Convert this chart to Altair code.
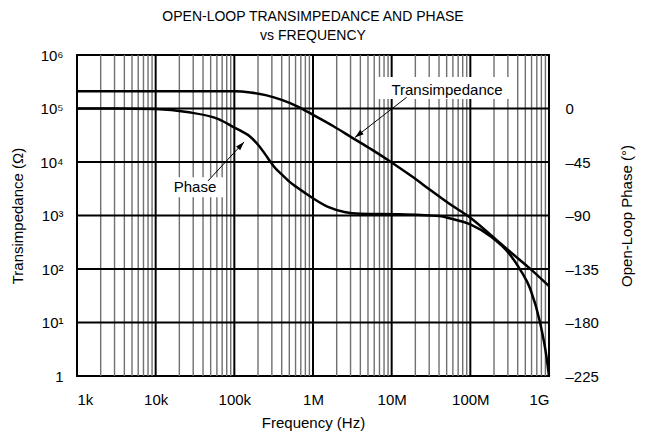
import json
import altair as alt
import pandas as pd

FONT = "Liberation Sans"

# ---- text ----
title_lines = ["OPEN-LOOP TRANSIMPEDANCE AND PHASE", "vs FREQUENCY"]
x_title = "Frequency (Hz)"
y_title = "Transimpedance (Ω)"
p_title = "Open-Loop Phase (°)"

freq_ticks = [1e3, 1e4, 1e5, 1e6, 1e7, 1e8, 1e9]
freq_labels = ["1k", "10k", "100k", "1M", "10M", "100M", "1G"]
z_ticks = [1, 10, 100, 1e3, 1e4, 1e5, 1e6]
z_labels = ["1", "10¹", "10²", "10³", "10⁴", "10⁵", "10⁶"]
phase_ticks = [-225, -180, -135, -90, -45, 0]
phase_labels = ["–225", "–180", "–135", "–90", "–45", "0"]

# ---- series ----
trans_freq = [1e3, 1e4, 1e5, 1.6e5, 2.5e5, 4e5, 6.3e5, 1e6, 1.8e6, 3.2e6, 5.6e6,
              1e7, 1.8e7, 3.2e7, 5.6e7, 1e8, 1.8e8, 3.2e8, 5.6e8, 1e9]
trans_z = [2.1e5, 2.1e5, 2.1e5, 2.0e5, 1.78e5, 1.45e5, 1.1e5, 7.6e4, 4.7e4, 2.8e4, 1.7e4,
           9.8e3, 5.4e3, 2.9e3, 1.6e3, 9.1e2, 4.4e2, 2.1e2, 1.05e2, 48]

phase_freq = [1e3, 3e3, 1e4, 2.5e4, 6.3e4, 1e5, 1.26e5, 1.58e5, 2e5, 2.5e5, 2.82e5,
              3.16e5, 4e5, 5e5, 6.3e5, 7.9e5, 1e6, 1.58e6, 2.5e6, 4e6, 1.25e7, 4e7,
              5.6e7, 1e8, 1.8e8, 3.2e8, 4.3e8, 5.8e8, 7.7e8, 9.3e8, 1e9]
phase_deg = [0, 0, -0.5, -3, -9, -16, -19.5, -23.5, -30.5, -39, -44,
             -48.5, -55.5, -61.5, -66.5, -71, -75.5, -83, -87, -88.5, -89, -90.5,
             -92.5, -97.5, -107.5, -123, -135.5, -152, -180, -209, -225]

# ---- grid ----
decades = [1e3, 1e4, 1e5, 1e6, 1e7, 1e8]
minor_mult = [2, 3, 4, 5, 6, 7, 8, 9]
minor_freq = [m * d for d in decades for m in minor_mult]
major_freq = [1e4, 1e5, 1e6, 1e7, 1e8]
major_z = [10, 100, 1e3, 1e4, 1e5]

# ---- annotations ----
ann_label = ["Transimpedance", "Phase"]
ann_f = [5.05e7, 3.16e4]
ann_z = [2.25e5, 3.44e3]
box_f1 = [6.7e6, 1.32e4]
box_f2 = [3.5e8, 7.6e4]
box_z1 = [3.9e5, 5.2e3]
box_z2 = [1.5e5, 2.2e3]
arrow_id = ["t", "t", "p", "p"]
arrow_f = [1.55e7, 3.42e6, 4.62e4, 1.33e5]
arrow_z = [1.62e5, 2.88e4, 4.42e3, 2.37e4]
head_f = [3.42e6, 1.33e5]
head_z = [2.88e4, 2.37e4]
head_angle = [232, 43]

trans_df = pd.DataFrame({"f": trans_freq, "z": trans_z})
phase_df = pd.DataFrame({"f": phase_freq, "deg": phase_deg})
minor_df = pd.DataFrame({"f": minor_freq})
major_df = pd.DataFrame({"f": major_freq})
hz_df = pd.DataFrame({"z": major_z})
ann_df = pd.DataFrame({"f": ann_f, "z": ann_z, "label": ann_label})
box_df = pd.DataFrame({"f1": box_f1, "f2": box_f2, "z1": box_z1, "z2": box_z2})
arrow_df = pd.DataFrame({"f": arrow_f, "z": arrow_z, "id": arrow_id})
head_df = pd.DataFrame({"f": head_f, "z": head_z, "a": head_angle})

x_scale = alt.Scale(type="log", domain=[1e3, 1e9], nice=False)
y_scale = alt.Scale(type="log", domain=[1, 1e6], nice=False)
p_scale = alt.Scale(domain=[-225, 45], nice=False, zero=False)

x_axis = alt.Axis(
    values=freq_ticks,
    labelExpr=json.dumps(freq_labels, ensure_ascii=False) + "[round(log(datum.value)/LN10)-3]",
    title=x_title, grid=False, ticks=False, domain=False,
    labelPadding=16, titlePadding=8, labelFontSize=15, titleFontSize=15,
)
y_axis = alt.Axis(
    values=z_ticks,
    labelExpr=json.dumps(z_labels, ensure_ascii=False) + "[round(log(datum.value)/LN10)]",
    title=y_title, grid=False, ticks=False, domain=False,
    labelPadding=14, titlePadding=14, labelFontSize=15, titleFontSize=15,
)
p_axis = alt.Axis(
    orient="right", values=phase_ticks,
    labelExpr=json.dumps(phase_labels, ensure_ascii=False) + "[round((datum.value+225)/45)]",
    title=p_title, grid=False, ticks=False, domain=False, titleAngle=270,
    labelPadding=16, titlePadding=36, labelFontSize=15, titleFontSize=15,
)


def X(field):
    return alt.X(field, type="quantitative", scale=x_scale, axis=x_axis)


def Y(field):
    return alt.Y(field, type="quantitative", scale=y_scale, axis=y_axis)


minor = alt.Chart(minor_df).mark_rule(color="#707070", strokeWidth=1.4).encode(x=X("f"))
major = alt.Chart(major_df).mark_rule(color="black", strokeWidth=2).encode(x=X("f"))
hlines = alt.Chart(hz_df).mark_rule(color="black", strokeWidth=1.8).encode(y=Y("z"))
boxes = alt.Chart(box_df).mark_rect(color="white").encode(
    x=X("f1"), x2="f2", y=Y("z1"), y2="z2")
trans = alt.Chart(trans_df).mark_line(color="black", strokeWidth=2.5, interpolate="monotone").encode(
    x=X("f"), y=Y("z"))
arrows = alt.Chart(arrow_df).mark_line(color="black", strokeWidth=1).encode(
    x=X("f"), y=Y("z"), detail="id:N")
heads = alt.Chart(head_df).mark_point(
    shape="M0,0 L-0.7,2.2 L0.7,2.2 Z", filled=True, color="black", opacity=1, size=64
).encode(x=X("f"), y=Y("z"), angle=alt.Angle("a:Q", scale=None))
texts = alt.Chart(ann_df).mark_text(font=FONT, fontSize=15, color="black").encode(
    x=X("f"), y=Y("z"), text="label:N")

left = alt.layer(minor, major, hlines, boxes, trans, arrows, heads, texts)

phase = alt.Chart(phase_df).mark_line(color="black", strokeWidth=2.5, interpolate="monotone").encode(
    x=X("f"),
    y=alt.Y("deg", type="quantitative", scale=p_scale, axis=p_axis),
)

chart = alt.layer(left, phase).resolve_scale(y="independent").properties(
    width=472, height=321,
    title=alt.TitleParams(text=title_lines, font=FONT, fontSize=14, fontWeight="normal",
                          color="black", anchor="middle", offset=5, lineHeight=19),
    padding={"left": 69, "top": 47, "right": 92, "bottom": 55},
    autosize=alt.AutoSizeParams(type="none"),
).configure_view(stroke="black", strokeWidth=2).configure_axis(
    labelFont=FONT, titleFont=FONT, labelColor="black", titleColor="black",
    titleFontWeight="normal",
)

chart.save("out.html", embed_options={"renderer": "svg", "actions": False})
